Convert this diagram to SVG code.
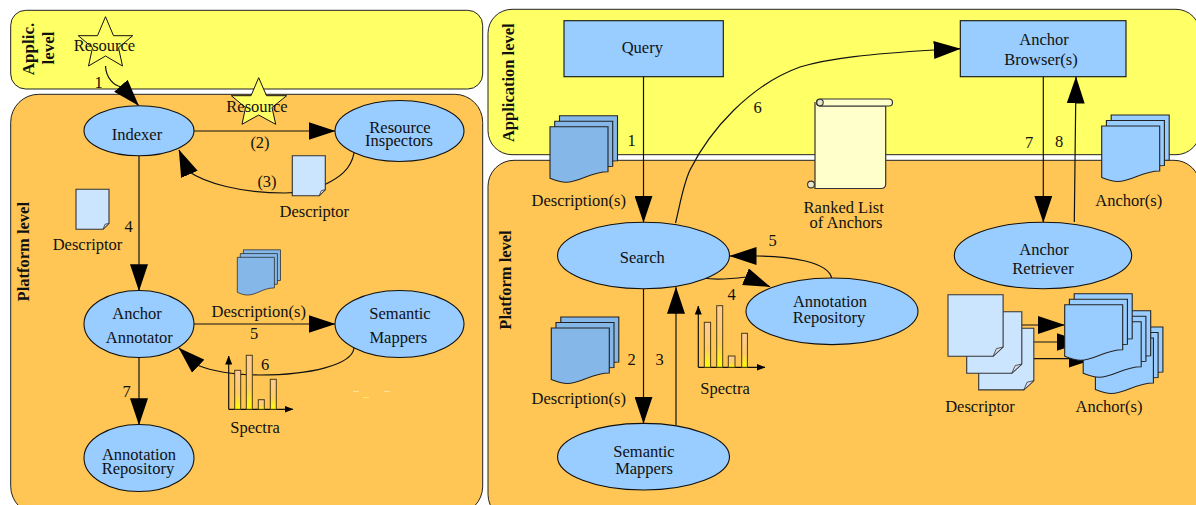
<svg xmlns="http://www.w3.org/2000/svg" width="1196" height="505" viewBox="0 0 1196 505">
<style>
text{font-family:"Liberation Serif","Times New Roman",serif;font-size:16.5px;fill:#111;text-anchor:middle}
.b{font-weight:bold}
.app{fill:#ffff66;stroke:#222;stroke-width:1}
.plat{fill:#ffc655;stroke:#222;stroke-width:1}
.n{fill:#99ccff;stroke:#111;stroke-width:1.1}
.c{fill:none;stroke:#111;stroke-width:1.2}
.a{marker-end:url(#big)}
.star{fill:#ffff66;stroke:#111;stroke-width:1}
.page{fill:#cce5ff;stroke:#333;stroke-width:1.1;vector-effect:non-scaling-stroke}
.fold{fill:#dde;stroke:#333;stroke-width:.8;vector-effect:non-scaling-stroke}
.sheet{stroke:#222;stroke-width:1.1;vector-effect:non-scaling-stroke}
.dk{fill:#85b7e8}
.lt{fill:#99ccff}
.bar{fill:url(#barg);stroke:#4a3a10;stroke-width:1}
.axis{fill:none;stroke:#111;stroke-width:1.2}
.scroll{fill:#ffffcc;stroke:#333;stroke-width:1.2}
.curl{fill:#e8e8c8;stroke:#333;stroke-width:1.1}
</style>
<defs>
<marker id="big" markerUnits="userSpaceOnUse" markerWidth="27" markerHeight="18" viewBox="0 0 27 18" refX="26.5" refY="9" orient="auto"><path d="M0 0L27 9L0 18Z" fill="#000"/></marker>
<marker id="sm" markerUnits="userSpaceOnUse" markerWidth="9" markerHeight="7" viewBox="0 0 9 7" refX="8.5" refY="3.5" orient="auto"><path d="M0 0L9 3.5L0 7Z" fill="#000"/></marker>
<linearGradient id="barg" x1="0" y1="0" x2="0" y2="1"><stop offset="0" stop-color="#ffcc99"/><stop offset=".6" stop-color="#ffcc66"/><stop offset="1" stop-color="#ffff00"/></linearGradient>
<g id="page"><path class="page" d="M0 0H33V34L27 40H0Z"/><path class="fold" d="M33 34L29 35L27 40Z"/></g>
<path id="sheet" d="M0 0H58V45C40 45 30 55.5 16 55.5C10 55.5 5 53.5 0 51.5Z"/>
<g id="stack"><use href="#sheet" x="9.5" y="-11"/><use href="#sheet" x="4.7" y="-5.5"/><use href="#sheet"/></g>
</defs>

<g id="panels">
<rect id="left-application-level" class="app" x="10.7" y="10.3" width="472" height="78.7" rx="15"/>
<rect id="left-platform-level" class="plat" x="10.7" y="94.3" width="472" height="420" rx="28"/>
<rect id="right-application-level" class="app" x="488" y="9.3" width="712" height="145.4" rx="24"/>
<rect id="right-platform-level" class="plat" x="488" y="160.3" width="712" height="360" rx="26"/>
<path d="M353 391.5h6M384 391.5h6" stroke="#ffe39a" stroke-width="1" fill="none"/>
<path d="M363 397.5h6" stroke="#ffee55" stroke-width="1" fill="none"/>
</g>

<g id="level-labels">
<text class="b" style="font-size:17px" transform="translate(34 49) rotate(-90)">Applic.</text>
<text class="b" style="font-size:17px" transform="translate(54 48) rotate(-90)">level</text>
<text class="b" transform="translate(28.7 251.7) rotate(-90)">Platform level</text>
<text class="b" transform="translate(514 82.7) rotate(-90)">Application level</text>
<text class="b" transform="translate(511.3 280) rotate(-90)">Platform level</text>
</g>

<g id="connectors">
<path class="c a" d="M105.5 66C106 78 114 86 122 87L138.5 105.5"/>
<path class="c a" d="M194 131H335"/>
<path class="c a" d="M354 153C351 170 338 178 326 184C315 190 300 193 285 193C240 193 205 183 188 171L179 150"/>
<path class="c a" d="M139 156V290.7"/>
<path class="c a" d="M194 324H335"/>
<path class="c a" d="M354 348C352 365 310 375 260 375C235 375 212 371 197 365L179 348"/>
<path class="c a" d="M139 357.5V424.7"/>
<path class="c a" d="M643.5 76.7V222.3"/>
<path class="c a" d="M675.5 223C680 205 683 185 690 170C710 130 750 85 800 67C830 58 870 54 934 50L960.3 48.7"/>
<path class="c a" d="M643.5 288.7V423.3"/>
<path class="c a" d="M676 425V287.3"/>
<path class="c a" d="M703 278C715 280 730 279 746 277L770 286.7"/>
<path class="c a" d="M831.7 278C828 262 790 256 757 256H730"/>
<path class="c a" d="M1043.3 76.7V222.3"/>
<path class="c a" d="M1074.3 222L1076 77"/>
<path class="c a" d="M1003 325H1064.5"/>
<path class="c a" d="M1022 342H1083"/>
<path class="c a" d="M1034 358.7H1095"/>
</g>

<g id="resource-app">
<polygon class="star" points="105.5,16.7 113.5,35.7 132.7,35.7 118.5,47.7 122.5,66 105.5,56 88.5,66 92.5,47.7 78.3,35.7 97.5,35.7"/>
<text x="104.5" y="51">Resource</text>
<text x="98.5" y="87.5">1</text>
</g>
<g id="resource-platform">
<polygon class="star" points="258.7,77.7 266.5,95.7 286.7,95.7 272,107.5 275.7,124.3 258.7,115 242,124.3 245.5,107.5 231.3,95.7 251,95.7"/>
<text x="257" y="111.5">Resource</text>
</g>
<g id="indexer"><ellipse class="n" cx="139" cy="130.8" rx="55" ry="25"/><text x="137" y="140">Indexer</text></g>
<g id="resource-inspectors"><ellipse class="n" cx="399.5" cy="131" rx="64.5" ry="30.5"/><text x="400" y="132.5">Resource</text><text x="399" y="145.5">Inspectors</text></g>
<g id="anchor-annotator"><ellipse class="n" cx="139" cy="324" rx="55" ry="33.5"/><text x="137" y="319">Anchor</text><text x="139.3" y="343.3">Annotator</text></g>
<g id="semantic-mappers-left"><ellipse class="n" cx="399.5" cy="324" rx="64.5" ry="33.5"/><text x="400" y="319">Semantic</text><text x="398.3" y="343.3">Mappers</text></g>
<g id="annotation-repository-left"><ellipse class="n" cx="139" cy="458" rx="55" ry="33.5"/><text x="139" y="460.3">Annotation</text><text x="138" y="474">Repository</text></g>

<g id="descriptor-1"><use href="#page" transform="translate(292.3 155.7)"/><text x="314.3" y="216.7">Descriptor</text></g>
<g id="descriptor-2"><use href="#page" transform="translate(76 189.3)"/><text x="87.5" y="250">Descriptor</text></g>
<g id="descriptions-left"><use href="#stack" class="sheet dk" transform="translate(237.3 257.3) scale(.64 .68)"/><text x="258.7" y="317.3">Description(s)</text></g>
<g id="spectra-left">
<path class="axis" d="M228.7 409.3V356" marker-end="url(#sm)"/>
<path class="axis" d="M228.7 409.3H293" marker-end="url(#sm)"/>
<rect class="bar" x="234.7" y="370.3" width="6" height="39"/>
<rect class="bar" x="246.3" y="355.3" width="6" height="54"/>
<rect class="bar" x="258.3" y="399.7" width="6" height="9.6"/>
<rect class="bar" x="270.3" y="379.3" width="6" height="30"/>
<text x="255" y="432.7">Spectra</text>
</g>
<g id="left-labels">
<text x="260" y="147.7">(2)</text>
<text x="267" y="186.7">(3)</text>
<text x="128.7" y="231.7">4</text>
<text x="254" y="338.7">5</text>
<text x="265" y="370">6</text>
<text x="126.7" y="397">7</text>
</g>

<g id="query"><rect class="n" x="564" y="20.7" width="159.3" height="56"/><text x="642.3" y="52.7">Query</text></g>
<g id="anchor-browser"><rect class="n" x="960.3" y="20.7" width="165.7" height="56"/><text x="1044" y="45">Anchor</text><text x="1041" y="65">Browser(s)</text></g>
<g id="search"><ellipse class="n" cx="643.5" cy="255.5" rx="86" ry="33.2"/><text x="642.3" y="263.3">Search</text></g>
<g id="semantic-mappers-right"><ellipse class="n" cx="643.5" cy="456.7" rx="86" ry="33.3"/><text x="644" y="457.3">Semantic</text><text x="644" y="474">Mappers</text></g>
<g id="annotation-repository-right"><ellipse class="n" cx="832" cy="311.3" rx="86" ry="33.3"/><text x="830" y="307.3">Annotation</text><text x="829" y="323.3">Repository</text></g>
<g id="anchor-retriever"><ellipse class="n" cx="1043" cy="255.5" rx="88.7" ry="33.2"/><text x="1044" y="255">Anchor</text><text x="1043" y="273.5">Retriever</text></g>

<g id="descriptions-top"><use href="#stack" class="sheet dk" transform="translate(550 126.7)"/><text x="578.7" y="205.7">Description(s)</text></g>
<g id="descriptions-bottom"><use href="#stack" class="sheet dk" transform="translate(551.3 328)"/><text x="578.7" y="404">Description(s)</text></g>
<g id="ranked-list">
<path class="scroll" d="M815 102V188.5H881Q885.7 188.5 885.7 184V106H820V99"/>
<path class="scroll" d="M820 99H889A3.5 3.5 0 0 1 889 106H820A3.5 3.5 0 0 1 820 99Z"/>
<circle class="curl" cx="820" cy="102.5" r="3.2"/>
<circle class="curl" cx="811" cy="184.5" r="3.4"/>
<text x="843.7" y="212.7">Ranked List</text>
<text x="846" y="228">of Anchors</text>
</g>
<g id="spectra-right">
<path class="axis" d="M698.3 367.3V306" marker-end="url(#sm)"/>
<path class="axis" d="M698.3 367.3H765" marker-end="url(#sm)"/>
<rect class="bar" x="704.3" y="322.3" width="6.3" height="45"/>
<rect class="bar" x="716.7" y="305.7" width="6" height="61.6"/>
<rect class="bar" x="728.3" y="356" width="6.7" height="11.3"/>
<rect class="bar" x="741.7" y="333.3" width="5.7" height="34"/>
<text x="725" y="394">Spectra</text>
</g>
<g id="anchors-top"><use href="#stack" class="sheet lt" transform="translate(1101.7 126)"/><text x="1128.7" y="205.7">Anchor(s)</text></g>
<g id="descriptors-bottom">
<use href="#page" transform="translate(978.7 328.3) scale(1.67 1.54)"/>
<use href="#page" transform="translate(966.7 311.7) scale(1.67 1.54)"/>
<use href="#page" transform="translate(948 294.7) scale(1.67 1.54)"/>
<text x="980" y="411.7">Descriptor</text>
</g>
<g id="anchors-bottom">
<use href="#stack" class="sheet lt" transform="translate(1095.4 338)"/>
<use href="#stack" class="sheet lt" transform="translate(1083.2 321.7)"/>
<use href="#stack" class="sheet lt" transform="translate(1064.7 304.7)"/>
<text x="1109" y="411.7">Anchor(s)</text>
</g>
<g id="right-labels">
<text x="631.7" y="146">1</text>
<text x="757.7" y="113.3">6</text>
<text x="772.7" y="246">5</text>
<text x="731.7" y="300">4</text>
<text x="631.7" y="365">2</text>
<text x="659.7" y="365">3</text>
<text x="1029" y="148.3">7</text>
<text x="1059" y="147.3">8</text>
</g>
</svg>
